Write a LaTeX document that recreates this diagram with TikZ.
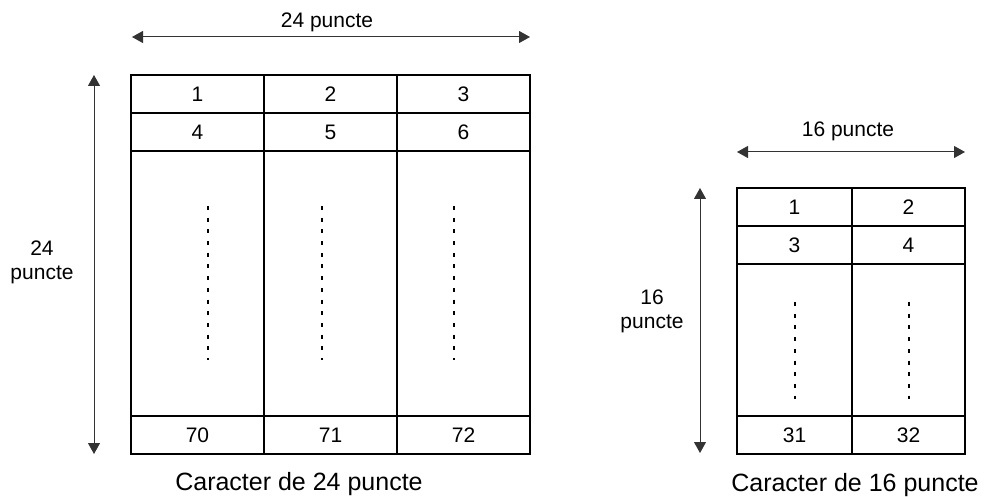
\documentclass[tikz,border=0pt]{standalone}
\usepackage{fontspec}
\setmainfont{Liberation Sans}
\usetikzlibrary{arrows.meta}
\begin{document}
\begin{tikzpicture}[x=1bp,y=-1bp,
  gridline/.style={draw=black,line width=2bp},
  dimarrow/.style={draw=black!80,line width=1bp,{Triangle[length=11bp,width=12bp]}-{Triangle[length=11bp,width=12bp]}},
  dotline/.style={draw=black,line width=2.2bp,dash pattern=on 4bp off 7.7bp},
  lbl/.style={font=\fontsize{21bp}{24bp}\selectfont,inner sep=0pt,align=center},
  captxt/.style={font=\fontsize{25bp}{28bp}\selectfont,inner sep=0pt}]
\useasboundingbox (0,0) rectangle (987,497);
% left grid
\draw[gridline] (131,75) rectangle (530,454);
\draw[gridline] (131,113) -- (530,113);
\draw[gridline] (131,151) -- (530,151);
\draw[gridline] (131,416) -- (530,416);
\draw[gridline] (264,75) -- (264,454);
\draw[gridline] (397,75) -- (397,454);
\foreach \x/\a/\b/\c in {197.5/1/4/70, 330.5/2/5/71, 463.5/3/6/72}{
  \node[lbl] (l\a) at (\x,94) {\a};
  \node[lbl] (l\b) at (\x,132) {\b};
  \node[lbl] (l\c) at (\x,435) {\c};
}
\foreach \x in {208,322,454}{
  \draw[dotline] (\x,206) -- (\x,360);
}
\coordinate (lhA) at (132,37);
\coordinate (lhB) at (530,37);
\draw[dimarrow] (lhA) -- (lhB);
\node[lbl] (ltop) at (327,22) {24 puncte};
\coordinate (lvA) at (94,75);
\coordinate (lvB) at (94,454);
\draw[dimarrow] (lvA) -- (lvB);
\node[lbl] (lside) at (42,262) {24\\puncte};
\node[captxt] (lcap) at (299,484) {Caracter de 24 puncte};
% right grid
\draw[gridline] (737,188) rectangle (965,454);
\draw[gridline] (737,226) -- (965,226);
\draw[gridline] (737,264) -- (965,264);
\draw[gridline] (737,416) -- (965,416);
\draw[gridline] (852,188) -- (852,454);
\foreach \x/\a/\b/\c in {794.5/1/3/31, 908.5/2/4/32}{
  \node[lbl] (r\a) at (\x,207) {\a};
  \node[lbl] (r\b) at (\x,245) {\b};
  \node[lbl] (r\c) at (\x,435) {\c};
}
\foreach \x in {795,909}{
  \draw[dotline] (\x,302) -- (\x,399);
}
\coordinate (rhA) at (737,152);
\coordinate (rhB) at (965,152);
\draw[dimarrow] (rhA) -- (rhB);
\node[lbl] (rtop) at (848,131) {16 puncte};
\coordinate (rvA) at (700,188);
\coordinate (rvB) at (700,453);
\draw[dimarrow] (rvA) -- (rvB);
\node[lbl] (rside) at (652,311) {16\\puncte};
\node[captxt] (rcap) at (855,485) {Caracter de 16 puncte};
\end{tikzpicture}
\end{document}
